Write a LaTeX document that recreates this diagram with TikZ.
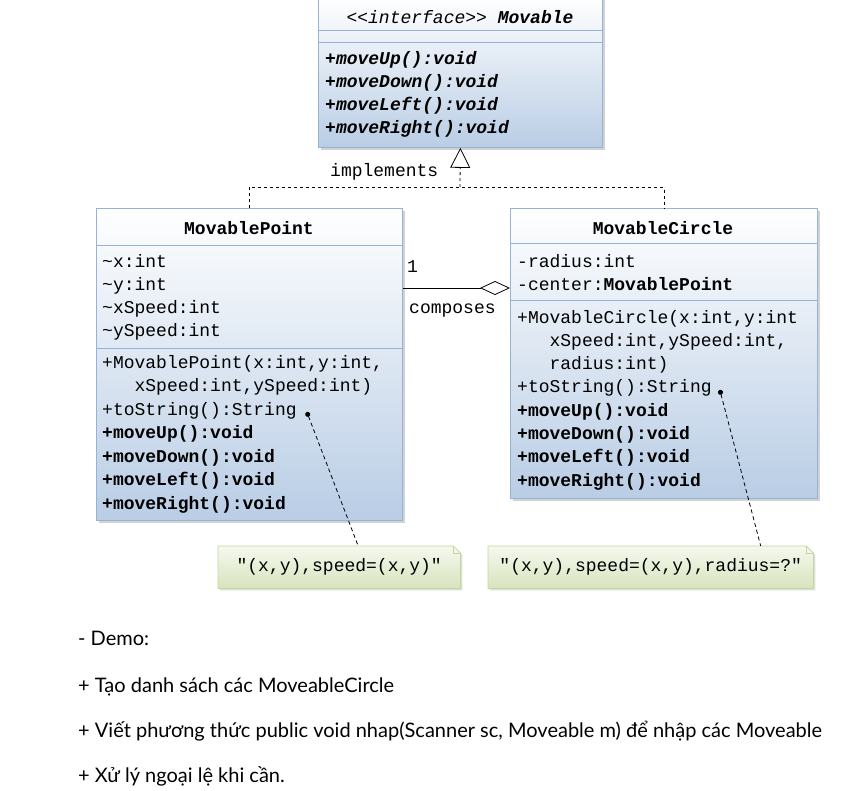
\documentclass[tikz,border=0pt]{standalone}
\usepackage{fontspec}
\usetikzlibrary{arrows.meta,shadows,backgrounds}
\newfontfamily\umlfont{Liberation Mono}
\newfontfamily\demofont{Lato}
\newcommand\tld{\char`\~}
\definecolor{umlblue}{RGB}{185,205,229}
\definecolor{umledge}{RGB}{149,179,215}
\definecolor{notegreen}{RGB}{215,228,189}
\definecolor{noteedge}{RGB}{195,214,155}

\begin{document}
\begin{tikzpicture}[x=1pt, y=-1pt,
  umlclass/.style={draw=umledge, line width=0.8pt, top color=white, bottom color=umlblue, anchor=north west, inner sep=0pt, drop shadow={shadow xshift=2.5pt, shadow yshift=-2.5pt, fill=black!35}},
  umlsep/.style={draw=umledge, line width=0.8pt},
  member/.style={anchor=base west, inner sep=0pt, font=\umlfont\fontsize{18}{22}\selectfont},
  classname/.style={anchor=base, inner sep=0pt, font=\umlfont\bfseries\fontsize{18}{22}\selectfont},
  realize/.style={black, line width=0.8pt, dash pattern=on 3pt off 3pt},
  aggregate/.style={black, line width=0.8pt},
  noteline/.style={black, line width=0.8pt, dash pattern=on 4pt off 3pt},
  notetext/.style={inner sep=0pt, anchor=north west, minimum height=42pt, font=\umlfont\fontsize{18}{22}\selectfont},
  notebox/.style={draw=noteedge, line width=0.8pt, top color=notegreen!25, bottom color=notegreen, drop shadow={shadow xshift=2pt, shadow yshift=-2pt, fill=black!25}},
  demotext/.style={anchor=base west, inner sep=0pt, font=\demofont\fontsize{20}{24}\selectfont}]

\useasboundingbox (0,0) rectangle (854,790);
\begin{scope}[on background layer]
\fill[white] (0,0) rectangle (854,790);
\end{scope}

% interface
\node[umlclass, minimum width=284pt, minimum height=150pt] (iface) at (318,-3) {};
\draw[umlsep] (318,30) -- (602,30);
\draw[umlsep] (318,42) -- (602,42);
\node[classname, font=\umlfont\itshape\fontsize{18}{22}\selectfont] (ifacename) at (460,23) {<{}<interface>{}> \textbf{Movable}};
\foreach \txt [count=\i from 0] in {+moveUp():void, +moveDown():void, +moveLeft():void, +moveRight():void}
  \node[member, font=\umlfont\bfseries\itshape\fontsize{18}{22}\selectfont] (ifacem\i) at (325,{64+23.3*\i}) {\txt};

% MovablePoint
\node[umlclass, minimum width=306pt, minimum height=312pt] (mp) at (96,208) {};
\draw[umlsep] (96,245) -- (402,245);
\draw[umlsep] (96,348) -- (402,348);
\node[classname] (mpname) at (249,234) {MovablePoint};
\foreach \txt [count=\i from 0] in {\tld x:int, \tld y:int, \tld xSpeed:int, \tld ySpeed:int}
  \node[member] (mpa\i) at (102,{267+23*\i}) {\txt};
\foreach \txt [count=\i from 0] in {{+MovablePoint(x:int,y:int,}, {\ \ \ xSpeed:int,ySpeed:int)}, +toString():String,
    \textbf{+moveUp():void}, \textbf{+moveDown():void}, \textbf{+moveLeft():void}, \textbf{+moveRight():void}}
  \node[member] (mpm\i) at (102,{368+23.5*\i}) {\txt};

% MovableCircle
\node[umlclass, minimum width=307pt, minimum height=290pt] (mc) at (510,208) {};
\draw[umlsep] (510,243) -- (817,243);
\draw[umlsep] (510,300) -- (817,300);
\node[classname] (mcname) at (663,234) {MovableCircle};
\foreach \txt [count=\i from 0] in {-radius:int, -center:\textbf{MovablePoint}}
  \node[member] (mca\i) at (517,{267+23*\i}) {\txt};
\foreach \txt [count=\i from 0] in {{+MovableCircle(x:int,y:int}, {\ \ \ xSpeed:int,ySpeed:int,}, {\ \ \ radius:int)}, +toString():String,
    \textbf{+moveUp():void}, \textbf{+moveDown():void}, \textbf{+moveLeft():void}, \textbf{+moveRight():void}}
  \node[member] (mcm\i) at (517,{323+23.3*\i}) {\txt};

% implements
\coordinate (implj) at (460,187);
\draw[realize] (mp.north) |- (implj) -| (mc.north);
\draw[realize, -{Triangle[open, length=20pt, width=20pt]}] (implj) -- (iface.south);
\node[member] (impllabel) at (330,176) {implements};

% composes
\coordinate (aggr) at (510,288);
\draw[aggregate, -{Diamond[open, length=30pt, width=14pt]}] (mp.east |- aggr) -- (aggr);
\node[member] (aggrone) at (407,272) {1};
\node[member] (aggrlabel) at (409,313) {composes};

% notes
\node[notetext, minimum width=242pt] (mpnote) at (218,546) {"(x,y),speed=(x,y)"};
\node[notetext, minimum width=325pt] (mcnote) at (488,546) {"(x,y),speed=(x,y),radius=?"};
\begin{scope}[on background layer]
\foreach \n in {mpnote, mcnote} {
  \shade[notebox] (\n.north west) -- ([xshift=-7pt]\n.north east) -- ([yshift=-7pt]\n.north east) -- (\n.south east) -- (\n.south west) -- cycle;
  \draw[noteedge, line width=0.8pt] ([xshift=-7pt]\n.north east) -- ([xshift=-7pt, yshift=-7pt]\n.north east) -- ([yshift=-7pt]\n.north east);
}
\end{scope}
\draw[noteline, {Circle[length=5pt]}-] ([xshift=10pt, yshift=3pt]mpm2.base east) -- ([xshift=19pt]mpnote.north);
\draw[noteline, {Circle[length=5pt]}-] ([xshift=8pt, yshift=3pt]mcm3.base east) -- ([xshift=110pt]mcnote.north);

% demo text
\node[demotext] (demo0) at (78,645) {- Demo:};
\node[demotext] (demo1) at (78,692) {+ Tạo danh sách các MoveableCircle};
\node[demotext] (demo2) at (78,737) {+ Viết phương thức public void nhap(Scanner sc, Moveable m) để nhập các Moveable};
\node[demotext] (demo3) at (78,782) {+ Xử lý ngoại lệ khi cần.};
\end{tikzpicture}
\end{document}
